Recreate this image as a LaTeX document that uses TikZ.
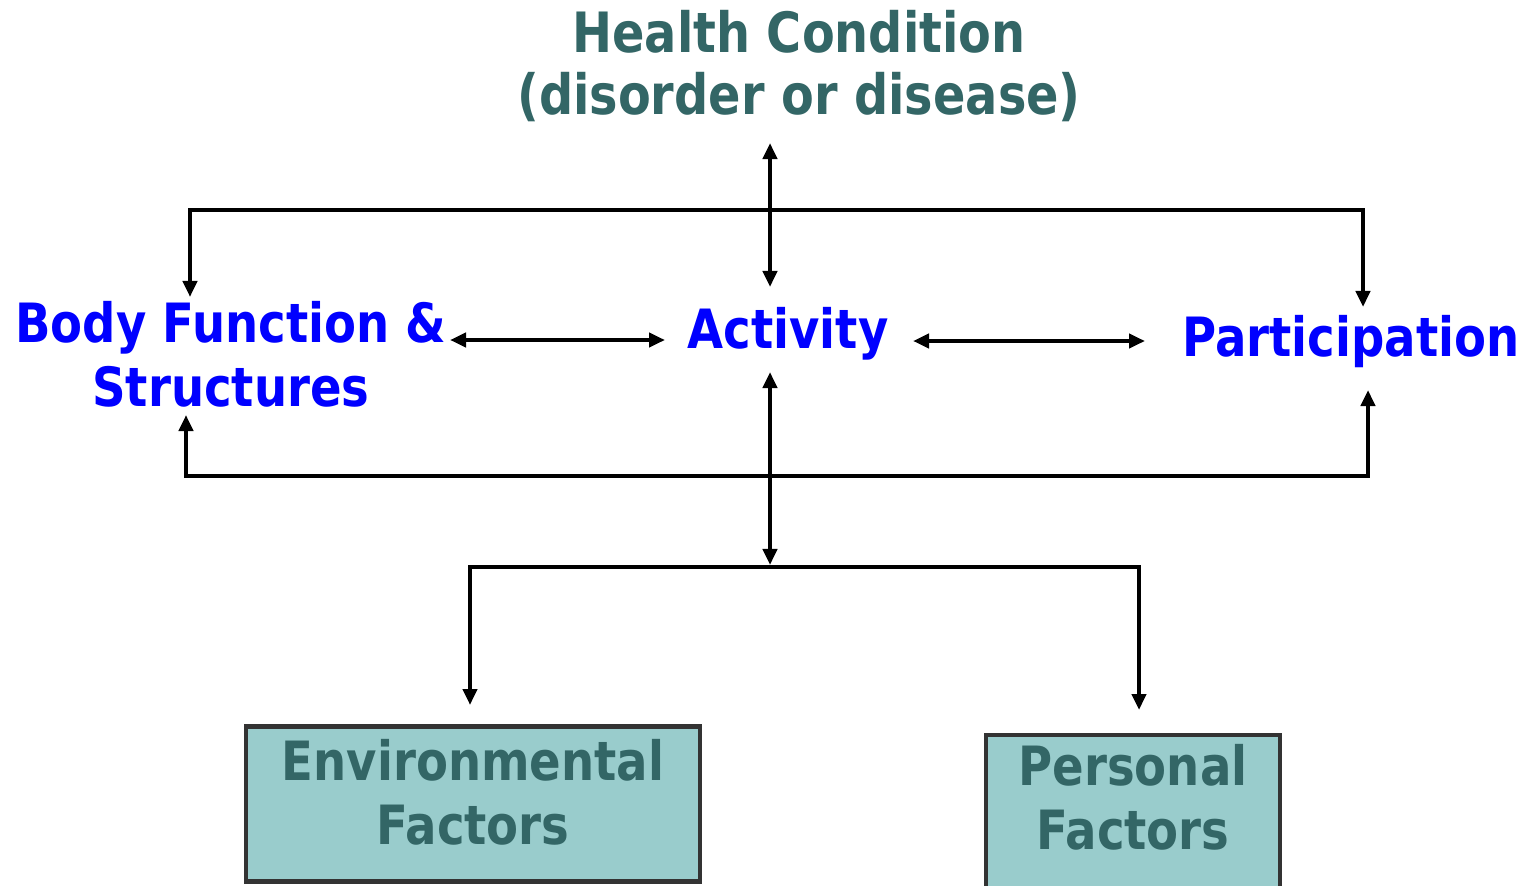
\documentclass[tikz,border=0pt]{standalone}
\usepackage{fontspec}
\setmainfont{DejaVu Sans}[FakeStretch=0.86]
\usepackage{tikz}
\usetikzlibrary{arrows.meta, positioning}

\definecolor{icfteal}{HTML}{336666}
\definecolor{icfbox}{HTML}{99CCCC}
\definecolor{icfedge}{HTML}{333333}

\begin{document}
\begin{tikzpicture}[
        x=0.01cm, y=-0.01cm,
        comp/.style={text=blue, align=center, inner sep=0pt, font=\fontsize{15.4}{18.2}\selectfont\bfseries},
        title/.style={text=icfteal, align=center, inner sep=0pt, font=\fontsize{15.8}{17.6}\selectfont\bfseries},
        factor/.style={draw=icfedge, line width=1.3pt, fill=icfbox, text=icfteal, align=center, inner sep=0pt, font=\fontsize{15.4}{18.2}\selectfont\bfseries},
        arrow/.style={{Triangle[length=0.16cm, width=0.14cm]}-{Triangle[length=0.16cm, width=0.14cm]}, line width=1.15pt},
        line/.style={-, line width=1.15pt}
    ]
    \useasboundingbox (0,0) rectangle (1534,885);

    % Health Condition
    \node[title] (health) at (799, 66) {Health Condition\\(disorder or disease)};

    % Components
    \node[comp] (body) at (231, 354) {Body Function \&\\Structures};
    \node[comp, anchor=base] (activity) at (788, 348) {Activity};
    \node[comp, anchor=base] (particip) at (1351, 356) {Participation};

    % Contextual factors
    \node[factor, minimum width=4.54cm, minimum height=1.55cm, text depth=0.24cm] (envfac) at (473, 804) {Environmental\\Factors};
    \node[factor, minimum width=2.94cm, minimum height=1.6cm, text depth=0.36cm] (persfac) at (1133, 815) {Personal\\Factors};

    % Arrow ends
    \coordinate (healthB) at (770, 143);
    \coordinate (actT) at (770, 287);
    \coordinate (actB) at (770, 372);
    \coordinate (ctxJ) at (770, 565);
    \coordinate (bodyT) at (190, 297);
    \coordinate (bodyB) at (186, 415);
    \coordinate (bodyR) at (450, 340);
    \coordinate (actL) at (665, 340);
    \coordinate (actR) at (913, 341);
    \coordinate (partL) at (1145, 341);
    \coordinate (partT) at (1363, 307);
    \coordinate (partB) at (1368, 390);
    \coordinate (topR) at (1363, 210);
    \coordinate (lowR) at (1368, 476);
    \coordinate (envT) at (470, 705);
    \coordinate (persT) at (1139, 710);
    \coordinate (ctxR) at (1139, 567);

    % Connections
    \draw[arrow] (healthB) -- (actT);
    \draw[arrow] (bodyT) |- (topR) -- (partT);
    \draw[arrow] (bodyR) -- (actL);
    \draw[arrow] (actR) -- (partL);
    \draw[arrow] (bodyB) |- (lowR) -- (partB);
    \draw[arrow] (actB) -- (ctxJ);
    \draw[arrow] (envT) |- (ctxR) -- (persT);

\end{tikzpicture}
\end{document}
